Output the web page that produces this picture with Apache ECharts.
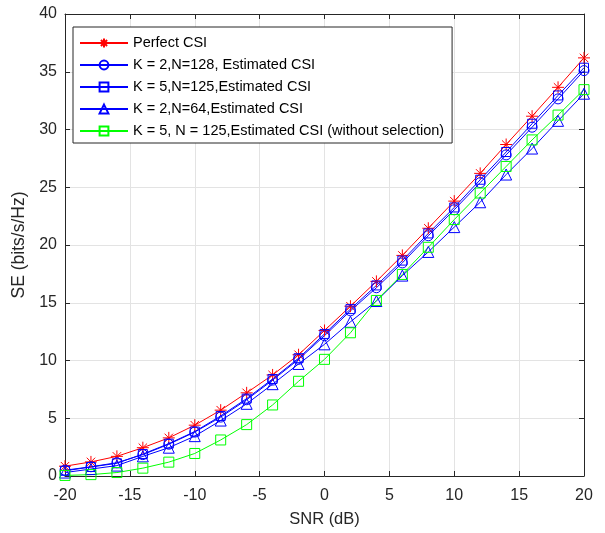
<!DOCTYPE html>
<html>
<head>
<meta charset="utf-8">
<script src="https://cdn.jsdelivr.net/npm/echarts@6/dist/echarts.min.js"></script>
<style>
  html, body { margin: 0; padding: 0; background: #fff; }
  #chart { width: 605px; height: 533px; }
</style>
</head>
<body>
<div id="chart"></div>
<script>
// SNR points (dB)
const snr = [-20, -18, -16, -14, -12, -10, -8, -6, -4, -2, 0, 2, 4, 6, 8, 10, 12, 14, 16, 18, 20];

// spectral efficiency, bits/s/Hz
const perfectCsi = [0.85, 1.22, 1.7, 2.45, 3.3, 4.4, 5.7, 7.2, 8.75, 10.5, 12.6, 14.7, 16.85, 19.1, 21.45, 23.8, 26.2, 28.7, 31.15, 33.65, 36.2];
const k2n128 = [0.5, 0.8, 1.15, 1.85, 2.75, 3.8, 5.1, 6.6, 8.3, 10.1, 12.15, 14.3, 16.3, 18.45, 20.8, 23.05, 25.4, 27.8, 30.2, 32.65, 35.1];
const k5n125 = [0.45, 0.78, 1.1, 1.9, 2.8, 3.85, 5.2, 6.7, 8.4, 10.2, 12.3, 14.45, 16.5, 18.65, 21.0, 23.25, 25.65, 28.05, 30.5, 32.95, 35.35];
const k2n64 = [0.3, 0.6, 0.9, 1.7, 2.45, 3.45, 4.8, 6.25, 7.95, 9.7, 11.4, 13.35, 15.15, 17.35, 19.4, 21.55, 23.7, 26.1, 28.35, 30.75, 33.1];
const noSelection = [0.05, 0.12, 0.3, 0.68, 1.2, 1.95, 3.12, 4.45, 6.15, 8.2, 10.1, 12.4, 15.2, 17.45, 19.8, 22.2, 24.5, 26.8, 29.1, 31.25, 33.45];

const seriesNames = [
  'Perfect CSI',
  'K = 2,N=128, Estimated CSI',
  'K = 5,N=125,Estimated CSI',
  'K = 2,N=64,Estimated CSI',
  'K = 5, N = 125,Estimated CSI (without selection)'
];

const FONT = '"Liberation Sans", Arial, Helvetica, sans-serif';
const AXIS_COLOR = '#262626';
// MATLAB-style asterisk marker
const STAR = 'path://M10 0L10 20M0 10L20 10M3 3L17 17M3 17L17 3';

function pairs(ys) {
  return snr.map((x, i) => [x, ys[i]]);
}

function makeSeries(name, ys, color, symbol, size) {
  return {
    name: name,
    type: 'line',
    data: pairs(ys),
    symbol: symbol,
    symbolSize: size,
    showAllSymbol: true,
    lineStyle: { color: color, width: 1 },
    // hollow markers, thin outline (like matlab)
    itemStyle: { color: 'transparent', borderColor: color, borderWidth: 1 },
    emphasis: { disabled: true },
    animation: false
  };
}

// box around the plot: top and right axes with ticks only
const hiddenAxis = (pos, isX) => ({
  type: 'value',
  position: pos,
  min: isX ? -20 : 0,
  max: isX ? 20 : 40,
  interval: 5,
  axisLine: { show: true, onZero: false, lineStyle: { color: AXIS_COLOR, width: 1 } },
  axisTick: { show: true, inside: true, length: 5, lineStyle: { color: AXIS_COLOR } },
  axisLabel: { show: false },
  splitLine: { show: false }
});

const chart = echarts.init(document.getElementById('chart'), null, { renderer: 'canvas' });

chart.setOption({
  backgroundColor: '#fff',
  animation: false,
  grid: { left: 65, right: 21, top: 14, bottom: 56, containLabel: false },
  xAxis: [
    {
      type: 'value',
      min: -20,
      max: 20,
      interval: 5,
      name: 'SNR (dB)',
      nameLocation: 'middle',
      nameGap: 35,
      nameTextStyle: { fontFamily: FONT, fontSize: 16.5, color: AXIS_COLOR },
      axisLine: { show: true, onZero: false, lineStyle: { color: AXIS_COLOR, width: 1 } },
      axisTick: { show: true, inside: true, length: 5, lineStyle: { color: AXIS_COLOR } },
      axisLabel: { fontFamily: FONT, fontSize: 16, color: AXIS_COLOR, margin: 12 },
      splitLine: { show: true, lineStyle: { color: '#e3e3e3', width: 1 } }
    },
    hiddenAxis('top', true)
  ],
  yAxis: [
    {
      type: 'value',
      min: 0,
      max: 40,
      interval: 5,
      name: 'SE (bits/s/Hz)',
      nameLocation: 'middle',
      nameGap: 33,
      nameTextStyle: { fontFamily: FONT, fontSize: 17.5, color: AXIS_COLOR },
      axisLine: { show: true, onZero: false, lineStyle: { color: AXIS_COLOR, width: 1 } },
      axisTick: { show: true, inside: true, length: 5, lineStyle: { color: AXIS_COLOR } },
      axisLabel: { fontFamily: FONT, fontSize: 16, color: AXIS_COLOR, margin: 8 },
      splitLine: { show: true, lineStyle: { color: '#e3e3e3', width: 1 } }
    },
    hiddenAxis('right', false)
  ],
  legend: {
    left: 73,
    top: 27,
    orient: 'vertical',
    align: 'left',
    backgroundColor: '#fff',
    borderColor: AXIS_COLOR,
    borderWidth: 1,
    padding: [8, 8, 4, 6],
    itemWidth: 48,
    itemHeight: 11,
    itemGap: 6,
    textStyle: { fontFamily: FONT, fontSize: 14.5, color: '#000', lineHeight: 16 },
    data: seriesNames
  },
  series: [
    makeSeries(seriesNames[0], perfectCsi, '#ff0000', STAR, 12),
    makeSeries(seriesNames[1], k2n128, '#0000ff', 'circle', 10),
    makeSeries(seriesNames[2], k5n125, '#0000ff', 'rect', 9),
    makeSeries(seriesNames[3], k2n64, '#0000ff', 'triangle', 11),
    makeSeries(seriesNames[4], noSelection, '#00ff00', 'rect', 10)
  ]
});
</script>
</body>
</html>
